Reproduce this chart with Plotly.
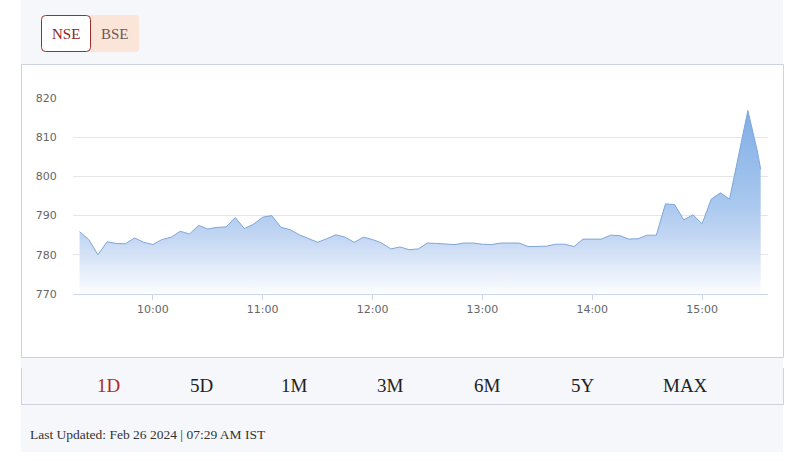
import pandas as pd
import plotly.graph_objects as go

# ---- data ----
session_date = "2024-02-23"
regular_times = [t.strftime("%H:%M") for t in pd.date_range("2024-02-23 09:20", "2024-02-23 15:30", freq="5min")]
times = regular_times + ["15:32"]
prices = [
    785.9, 783.9, 780.0, 783.3, 782.9, 782.8, 784.3, 783.2, 782.6, 783.9,
    784.5, 786.0, 785.3, 787.5, 786.6, 787.0, 787.1, 789.5, 786.7, 787.8,
    789.6, 790.0, 787.0, 786.4, 785.1, 784.2, 783.2, 784.1, 785.1, 784.5,
    783.2, 784.5, 783.9, 783.0, 781.5, 782.0, 781.3, 781.5, 783.0, 782.9,
    782.7, 782.6, 783.0, 783.0, 782.7, 782.6, 783.0, 783.0, 783.0, 782.1,
    782.1, 782.2, 782.7, 782.7, 782.1, 784.0, 784.0, 784.0, 785.0, 784.9,
    784.0, 784.1, 785.0, 785.0, 793.0, 792.8, 788.9, 790.2, 787.9, 794.2,
    795.8, 794.2, 805.5, 816.8, 806.8, 801.8,
]
y_ticks = [770, 780, 790, 800, 810, 820]
exchanges = ["NSE", "BSE"]
periods = ["1D", "5D", "1M", "3M", "6M", "5Y", "MAX"]
footer_text = "Last Updated: Feb 26 2024 | 07:29 AM IST"

x_vals = [f"{session_date} {t}" for t in times]

# ---- geometry helpers (pixel -> paper) ----
W, H = 799, 461
PL, PR, PT, PB = 73, 768, 98, 294


def px(x):
    return (x - PL) / (PR - PL)


def py(y):
    return (PB - y) / (PB - PT)


def rrect(x0, y0, x1, y1, r):
    pts = [
        f"M {px(x0 + r)} {py(y0)}",
        f"L {px(x1 - r)} {py(y0)}",
        f"Q {px(x1)} {py(y0)} {px(x1)} {py(y0 + r)}",
        f"L {px(x1)} {py(y1 - r)}",
        f"Q {px(x1)} {py(y1)} {px(x1 - r)} {py(y1)}",
        f"L {px(x0 + r)} {py(y1)}",
        f"Q {px(x0)} {py(y1)} {px(x0)} {py(y1 - r)}",
        f"L {px(x0)} {py(y0 + r)}",
        f"Q {px(x0)} {py(y0)} {px(x0 + r)} {py(y0)}",
        "Z",
    ]
    return " ".join(pts)


fig = go.Figure()
fig.add_trace(
    go.Scatter(
        x=x_vals,
        y=prices,
        mode="lines",
        line=dict(color="rgb(128,166,218)", width=1),
        fill="tozeroy",
        fillgradient=dict(
            type="vertical",
            start=770,
            stop=817,
            colorscale=[
                [0.0, "rgb(252,253,255)"],
                [0.12, "rgb(230,238,250)"],
                [0.3, "rgb(196,215,243)"],
                [0.5, "rgb(167,199,238)"],
                [1.0, "rgb(128,174,230)"],
            ],
        ),
        hoverinfo="skip",
        showlegend=False,
    )
)

border = "#ccd3de"
panel = "#f5f7fb"
shapes = [
    dict(type="rect", xref="paper", yref="paper", x0=px(21), x1=px(783), y0=py(0), y1=py(452),
         fillcolor=panel, line=dict(width=0), layer="below"),
    dict(type="rect", xref="paper", yref="paper", x0=px(21.5), x1=px(783.5), y0=py(64.5), y1=py(357.5),
         fillcolor="white", line=dict(color=border, width=1), layer="below"),
    dict(type="path", xref="paper", yref="paper", path=rrect(88, 15, 139, 52, 4),
         fillcolor="#fbe4d8", line=dict(width=0), layer="below"),
    dict(type="path", xref="paper", yref="paper", path=rrect(41.5, 15.5, 90.5, 51.5, 4),
         fillcolor="white", line=dict(color="#9b2d2d", width=1), layer="below"),
    dict(type="line", xref="paper", yref="paper", x0=px(21.5), x1=px(21.5), y0=py(368), y1=py(404.5),
         line=dict(color=border, width=1)),
    dict(type="line", xref="paper", yref="paper", x0=px(783.5), x1=px(783.5), y0=py(368), y1=py(404.5),
         line=dict(color=border, width=1)),
    dict(type="line", xref="paper", yref="paper", x0=px(21), x1=px(784), y0=py(404.5), y1=py(404.5),
         line=dict(color=border, width=1)),
]

serif = "Liberation Serif, DejaVu Serif, serif"
annotations = []
ex_pos = [66, 115]
ex_col = ["#8b2323", "#6e5a55"]
for name, xp, col in zip(exchanges, ex_pos, ex_col):
    annotations.append(dict(x=px(xp), y=py(34), xref="paper", yref="paper", text=name, showarrow=False,
                            xanchor="center", yanchor="middle", font=dict(family=serif, size=15, color=col)))
period_pos = [108, 201, 294, 390, 488, 583, 685]
for i, (name, xp) in enumerate(zip(periods, period_pos)):
    annotations.append(dict(x=px(xp), y=py(385), xref="paper", yref="paper", text=name, showarrow=False,
                            xanchor="center", yanchor="middle",
                            font=dict(family=serif, size=19, color="#b22a2a" if i == 0 else "#222222")))
annotations.append(dict(x=px(28), y=py(434), xref="paper", yref="paper", text=footer_text, showarrow=False,
                        xanchor="left", yanchor="middle", font=dict(family=serif, size=13.5, color="#333333")))

fig.update_layout(
    width=W,
    height=H,
    margin=dict(l=PL, r=W - PR, t=PT, b=H - PB),
    paper_bgcolor="white",
    plot_bgcolor="rgba(0,0,0,0)",
    shapes=shapes,
    annotations=annotations,
    showlegend=False,
    xaxis=dict(
        type="date",
        range=[f"{session_date} 09:16:24", f"{session_date} 15:36:00"],
        tick0=f"{session_date} 10:00",
        dtick=3600000,
        tickformat="%H:%M",
        showgrid=False,
        zeroline=False,
        showline=True,
        linecolor="#ccd6eb",
        linewidth=1,
        ticks="outside",
        ticklen=5,
        tickcolor="#ccd6eb",
        tickfont=dict(family="DejaVu Sans, sans-serif", size=11, color="#666666"),
        fixedrange=True,
    ),
    yaxis=dict(
        range=[770, 820],
        tickvals=y_ticks,
        showgrid=True,
        gridcolor="#e6e6e6",
        gridwidth=1,
        zeroline=False,
        showline=False,
        ticks="outside",
        ticklen=13,
        tickcolor="rgba(0,0,0,0)",
        tickfont=dict(family="DejaVu Sans, sans-serif", size=11, color="#666666"),
        fixedrange=True,
    ),
)

fig.write_html(
    "out.html",
    config={"displayModeBar": False},
    post_script="document.body.style.margin='0';document.body.style.overflow='hidden';",
)
